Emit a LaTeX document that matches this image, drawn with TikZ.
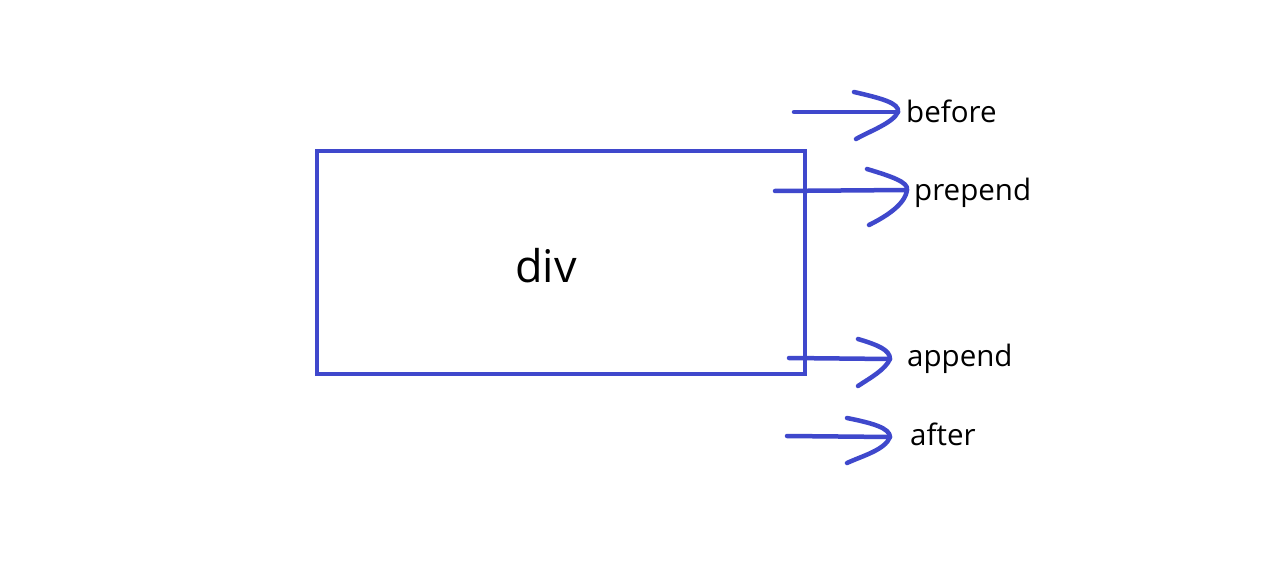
\documentclass[tikz,border=0pt]{standalone}
\usepackage{fontspec}
\setmainfont{Open Sans}
\definecolor{ink}{RGB}{63,72,204}
\begin{document}
\begin{tikzpicture}[x=1pt,y=-1pt,
  stroke/.style={draw=ink,line width=4.5pt,line cap=round,line join=round},
  lbl/.style={anchor=west,inner sep=0pt,font=\fontsize{29.5}{35}\selectfont,text=black}]
\useasboundingbox[fill=white] (0,0) rectangle (1284,588);
\node[draw=ink,line width=4.5pt,minimum width=488pt,minimum height=223pt,inner sep=0pt,outer sep=0pt,anchor=north west] (div) at (317,151) {};
\node[font=\fontsize{45}{52}\selectfont,inner sep=0pt] (divtext) at (546,266) {div};
% before
\coordinate (s1) at (794,112); \coordinate (t1) at (898,112);
\coordinate (a1) at (854,92); \coordinate (b1) at (856,139);
\draw[stroke] (s1) -- (t1);
\draw[stroke] (a1) .. controls (880,98) and (900,103) .. (t1) .. controls (893,123) and (870,131) .. (b1);
\node[lbl] (before) at (906,111) {before};
% prepend
\coordinate (s2) at (775,191); \coordinate (t2) at (907,190);
\coordinate (a2) at (867,169); \coordinate (b2) at (869,225);
\draw[stroke] (s2) -- (t2);
\draw[stroke] (a2) .. controls (890,176) and (909,182) .. (t2) .. controls (905,205) and (885,217) .. (b2);
\node[lbl] (prepend) at (914,193) {prepend};
% append
\coordinate (s3) at (789,358); \coordinate (t3) at (890,359);
\coordinate (a3) at (858,339); \coordinate (b3) at (858,386);
\draw[stroke] (s3) -- (t3);
\draw[stroke] (a3) .. controls (878,345) and (890,350) .. (t3) .. controls (885,370) and (870,378) .. (b3);
\node[lbl] (append) at (907,359) {append};
% after
\coordinate (s4) at (787,436); \coordinate (t4) at (890,437);
\coordinate (a4) at (847,418); \coordinate (b4) at (847,463);
\draw[stroke] (s4) -- (t4);
\draw[stroke] (a4) .. controls (872,423) and (890,428) .. (t4) .. controls (885,450) and (862,456) .. (b4);
\node[lbl] (after) at (910,434) {after};
\end{tikzpicture}
\end{document}
